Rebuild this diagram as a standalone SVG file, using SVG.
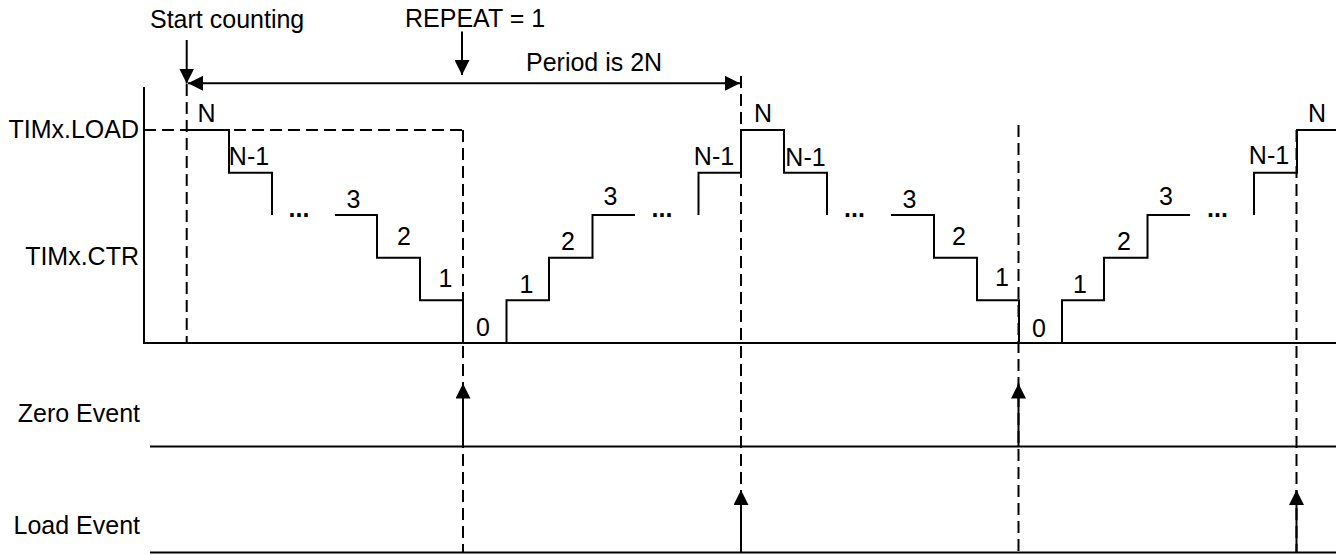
<svg xmlns="http://www.w3.org/2000/svg" width="1336" height="555" viewBox="0 0 1336 555">
<style>
text{font-family:"Liberation Sans",Arial,sans-serif;font-size:25px;fill:#000}
.m{text-anchor:middle}
.e{text-anchor:end}
.dots{font-weight:bold;text-anchor:middle}
.s{fill:none;stroke:#000;stroke-width:2}
.d{fill:none;stroke:#000;stroke-width:2;stroke-dasharray:12 6}
.a{fill:none;stroke:#000;stroke-width:2;marker-end:url(#ah)}
</style>
<defs>
<marker id="ah" markerUnits="userSpaceOnUse" markerWidth="16" markerHeight="15" refX="15" refY="7.5" orient="auto-start-reverse">
<path d="M0,0 L15,7.5 L0,15 z" fill="#000"/>
</marker>
</defs>
<rect width="1336" height="555" fill="#fff"/>

<g id="signal-labels">
<text class="e" x="139" y="137.5">TIMx.LOAD</text>
<text class="e" x="139" y="265">TIMx.CTR</text>
<text class="e" x="140" y="422">Zero Event</text>
<text class="e" x="140" y="534">Load Event</text>
</g>

<g id="axes">
<path class="s" d="M144,87 V343 H1336"/>
<path class="s" d="M150,446.5 H1336"/>
<path class="s" d="M150,552.5 H1336"/>
</g>

<g id="dashed-guides">
<path class="d" d="M144,130 H463"/>
<path class="d" d="M186.7,84 V343"/>
<path class="d" d="M463,130 V552"/>
<path class="d" d="M741,76 V552"/>
<path class="d" d="M1018.5,125 V552"/>
<path class="d" d="M1296.5,130 V552"/>
</g>

<g id="counter-waveform">
<path class="s" d="M187,130 H229 V172.7 H272 V215"/>
<path class="s" d="M335,215 H377 V257.7 H420 V300.3 H463 V343"/>
<path class="s" d="M506.5,343 V300.3 H549 V257.7 H592.5 V215 H635"/>
<path class="s" d="M698.5,215 V172.7 H741 V130 H784 V172.7 H827 V215"/>
<path class="s" d="M891,215 H934 V257.7 H977 V300.3 H1019 V343"/>
<path class="s" d="M1062,343 V300.3 H1104 V257.7 H1147.5 V215 H1190"/>
<path class="s" d="M1254,215 V172.7 H1297 V130 H1336"/>
</g>

<g id="counter-values">
<text class="m" x="206.5" y="122">N</text>
<text class="m" x="249" y="165">N-1</text>
<text class="dots" x="299" y="217">...</text>
<text class="m" x="353.5" y="208">3</text>
<text class="m" x="404" y="245">2</text>
<text class="m" x="445.5" y="286.5">1</text>
<text class="m" x="483" y="336">0</text>
<text class="m" x="526.5" y="293">1</text>
<text class="m" x="568" y="250">2</text>
<text class="m" x="610.5" y="205">3</text>
<text class="dots" x="662" y="217">...</text>
<text class="m" x="714" y="165">N-1</text>
<text class="m" x="763" y="122">N</text>
<text class="m" x="805.5" y="165.5">N-1</text>
<text class="dots" x="854.5" y="217">...</text>
<text class="m" x="909.5" y="208">3</text>
<text class="m" x="959" y="245">2</text>
<text class="m" x="1002" y="285.5">1</text>
<text class="m" x="1039" y="337">0</text>
<text class="m" x="1080" y="293">1</text>
<text class="m" x="1124" y="250">2</text>
<text class="m" x="1166" y="205">3</text>
<text class="dots" x="1217.5" y="217">...</text>
<text class="m" x="1269" y="164">N-1</text>
<text class="m" x="1317" y="122">N</text>
</g>

<g id="annotations">
<text x="150" y="28">Start counting</text>
<text x="405" y="26.5">REPEAT = 1</text>
<text x="526" y="71">Period is 2N</text>
</g>

<g id="connectors">
<path class="a" d="M186.7,40 V83.5"/>
<path class="a" d="M462,31.5 V75"/>
<path class="s" d="M188,83.3 H740" marker-start="url(#ah)" marker-end="url(#ah)"/>
<path class="a" d="M463,446.5 V383.5"/>
<path class="a" d="M1018.5,446.5 V383.5"/>
<path class="a" d="M741,552.5 V490"/>
<path class="a" d="M1296.5,552.5 V490"/>
</g>
</svg>
